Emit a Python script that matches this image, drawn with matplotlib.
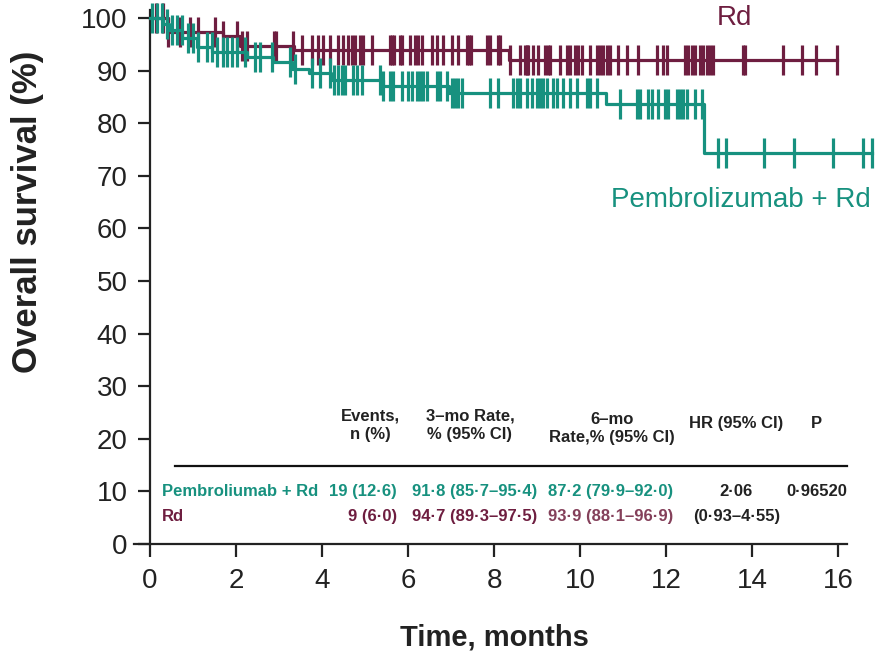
import numpy as np
import matplotlib
matplotlib.use("Agg")
import matplotlib.pyplot as plt

plt.rcParams['font.family'] = ['Liberation Sans', 'DejaVu Sans']

# ---- data (months, % survival) ----
rd_event_times = [0.42, 1.70, 2.10, 3.35, 8.35]
rd_event_surv = [97.3, 96.6, 94.7, 93.9, 92.1]
rd_end = 15.98
rd_censor = [0.15, 0.30, 0.42, 0.70, 0.93, 1.12, 1.51, 1.70, 2.02, 2.14, 2.26,
             2.88, 2.93, 3.33, 3.53, 3.77, 3.91, 4.02, 4.19, 4.37, 4.49, 4.60,
             4.70, 4.77, 4.88, 4.95, 5.16, 5.58, 5.63, 5.67, 5.81, 5.86, 6.05,
             6.16, 6.23, 6.33, 6.56, 6.67, 6.81, 7.02, 7.16, 7.37, 7.42, 7.47,
             7.84, 7.91, 8.09, 8.14, 8.37, 8.60, 8.72, 8.77, 8.79, 8.91, 9.02,
             9.19, 9.26, 9.30, 9.53, 9.70, 9.77, 9.88, 9.95, 10.05, 10.23,
             10.40, 10.47, 10.53, 10.63, 10.70, 10.88, 11.09, 11.35, 11.79,
             11.93, 12.02, 12.44, 12.51, 12.60, 12.67, 12.79, 12.86, 12.95,
             13.02, 13.09, 13.79, 13.84, 14.72, 15.16, 15.49, 15.98]

pe_event_times = [0.30, 0.45, 0.75, 1.10, 1.45, 2.25, 2.85, 3.30, 3.70, 4.20,
                  5.42, 6.95, 10.60, 12.88]
pe_event_surv = [98.8, 97.7, 96.2, 94.5, 93.5, 92.5, 91.6, 90.3, 89.5, 88.3,
                 87.0, 85.8, 83.6, 74.3]
pe_end = 16.79
pe_censor = [0.05, 0.16, 0.28, 0.40, 0.51, 0.63, 0.74, 0.88, 1.00, 1.12, 1.33,
             1.44, 1.56, 1.70, 1.79, 1.91, 2.02, 2.21, 2.44, 2.56, 2.84, 3.26,
             3.37, 3.77, 3.95, 4.19, 4.28, 4.37, 4.47, 4.53, 4.72, 4.81, 4.93,
             5.35, 5.42, 5.58, 5.65, 5.86, 6.00, 6.09, 6.21, 6.28, 6.35, 6.44,
             6.67, 6.74, 6.91, 7.02, 7.09, 7.16, 7.26, 7.91, 8.09, 8.44, 8.53,
             8.60, 8.77, 8.88, 9.00, 9.07, 9.14, 9.23, 9.37, 9.47, 9.60, 9.77,
             9.93, 10.16, 10.23, 10.40, 10.93, 11.33, 11.40, 11.58, 11.67,
             11.81, 11.98, 12.05, 12.26, 12.33, 12.40, 12.49, 12.67, 12.84,
             13.21, 13.40, 14.28, 14.98, 15.88, 16.58, 16.79]

x_ticks = [0, 2, 4, 6, 8, 10, 12, 14, 16]
y_ticks = [0, 10, 20, 30, 40, 50, 60, 70, 80, 90, 100]

header_cols = ["Events,\nn (%)", "3\u2013mo Rate,\n% (95% CI)",
               "6\u2013mo\nRate,% (95% CI)", "HR (95% CI)", "P"]
row_labels = ["Pembroliumab + Rd", "Rd"]
events = ["19 (12\u00b76)", "9 (6\u00b70)"]
rate3 = ["91\u00b78 (85\u00b77\u201395\u00b74)", "94\u00b77 (89\u00b73\u201397\u00b75)"]
rate6 = ["87\u00b72 (79\u00b79\u201392\u00b70)", "93\u00b79 (88\u00b71\u201396\u00b79)"]
hr_text = ["2\u00b706", "(0\u00b793\u20134\u00b755)"]
p_text = "0\u00b796520"

TEAL = '#17917F'
MAROON = '#6E1E40'
MAROON_LIGHT = '#84405A'

fig = plt.figure(figsize=(8.8, 6.58), dpi=100)
ax = fig.add_axes([134/880, 1-544/658, (879-134)/880, 544/658])
ax.set_xlim(-0.37, 16.95)
ax.set_ylim(0, 544/5.26)


def km_xy(times, surv, end):
    xs = [0.0] + list(times) + [end]
    ys = [100.0] + list(surv) + [surv[-1]]
    return xs, ys


def surv_at(times, surv, t):
    levels = np.array([100.0] + list(surv))
    idx = np.searchsorted(np.array(times), np.array(t), side='right')
    return levels[idx]


for times, surv, end, cens, col in [
        (rd_event_times, rd_event_surv, rd_end, rd_censor, MAROON),
        (pe_event_times, pe_event_surv, pe_end, pe_censor, TEAL)]:
    xs, ys = km_xy(times, surv, end)
    ax.step(xs, ys, where='post', color=col, lw=2.3, clip_on=False, zorder=3)
    ax.plot(cens, surv_at(times, surv, cens), ls='none', marker='|',
            ms=22, mew=2.3, color=col, clip_on=False, zorder=3)

ax.text(13.6, 100.0, "Rd", color=MAROON, fontsize=20, ha='center', va='center')
ax.text(13.74, 65.4, "Pembrolizumab + Rd", color=TEAL, fontsize=20,
        ha='center', va='center')

# table
tfs = 12
ax.text(5.12, 22.6, header_cols[0], ha='center', va='center', fontsize=tfs,
        fontweight='bold', linespacing=1.25, color='#222222')
ax.text(7.44, 22.6, header_cols[1], ha='center', va='center', fontsize=tfs,
        fontweight='bold', linespacing=1.25, color='#222222')
ax.text(10.74, 22.0, header_cols[2], ha='center', va='center', fontsize=tfs,
        fontweight='bold', linespacing=1.25, color='#222222')
ax.text(13.63, 23.0, header_cols[3], ha='center', va='center', fontsize=tfs,
        fontweight='bold', color='#222222')
ax.text(15.5, 23.0, header_cols[4], ha='center', va='center', fontsize=tfs,
        fontweight='bold', color='#222222')
ax.plot([0.58, 16.2], [14.8, 14.8], color='#111111', lw=1.6, clip_on=False)

row_y = [9.9, 5.3]
row_cols = [TEAL, MAROON]
for i in range(2):
    ax.text(0.28, row_y[i], row_labels[i], ha='left', va='center', fontsize=tfs,
            fontweight='bold', color=row_cols[i])
    ax.text(5.74, row_y[i], events[i], ha='right', va='center', fontsize=tfs,
            fontweight='bold', color=row_cols[i])
    ax.text(6.09, row_y[i], rate3[i], ha='left', va='center', fontsize=tfs,
            fontweight='bold', color=row_cols[i])
    ax.text(9.26, row_y[i], rate6[i], ha='left', va='center', fontsize=tfs,
            fontweight='bold', color=row_cols[i] if i == 0 else MAROON_LIGHT)
    ax.text(13.63, row_y[i], hr_text[i], ha='center', va='center', fontsize=tfs,
            fontweight='bold', color='#222222')
ax.text(15.5, row_y[0], p_text, ha='center', va='center', fontsize=tfs,
        fontweight='bold', color='#222222')

# axes styling
for s in ['top', 'right']:
    ax.spines[s].set_visible(False)
ax.spines['left'].set_position(('data', 0))
ax.spines['left'].set_bounds(0, 101.6)
ax.spines['bottom'].set_bounds(-0.37, 16.21)
for s in ['left', 'bottom']:
    ax.spines[s].set_linewidth(1.6)
    ax.spines[s].set_color('#222222')
ax.set_xticks(x_ticks)
ax.set_yticks(y_ticks)
ax.tick_params(axis='both', direction='out', length=9, width=1.6,
               color='#222222', labelsize=20, labelcolor='#222222')
ax.tick_params(axis='x', pad=8)
ax.tick_params(axis='y', pad=7)

fig.text(28/880, 1-212/658, "Overall survival (%)", rotation=90, ha='center',
         va='center', fontsize=25, fontweight='bold', color='#222222')
fig.text(494/880, 1-637/658, "Time, months", ha='center', va='center',
         fontsize=21, fontweight='bold', color='#222222')

fig.savefig("out.png", dpi=100)
